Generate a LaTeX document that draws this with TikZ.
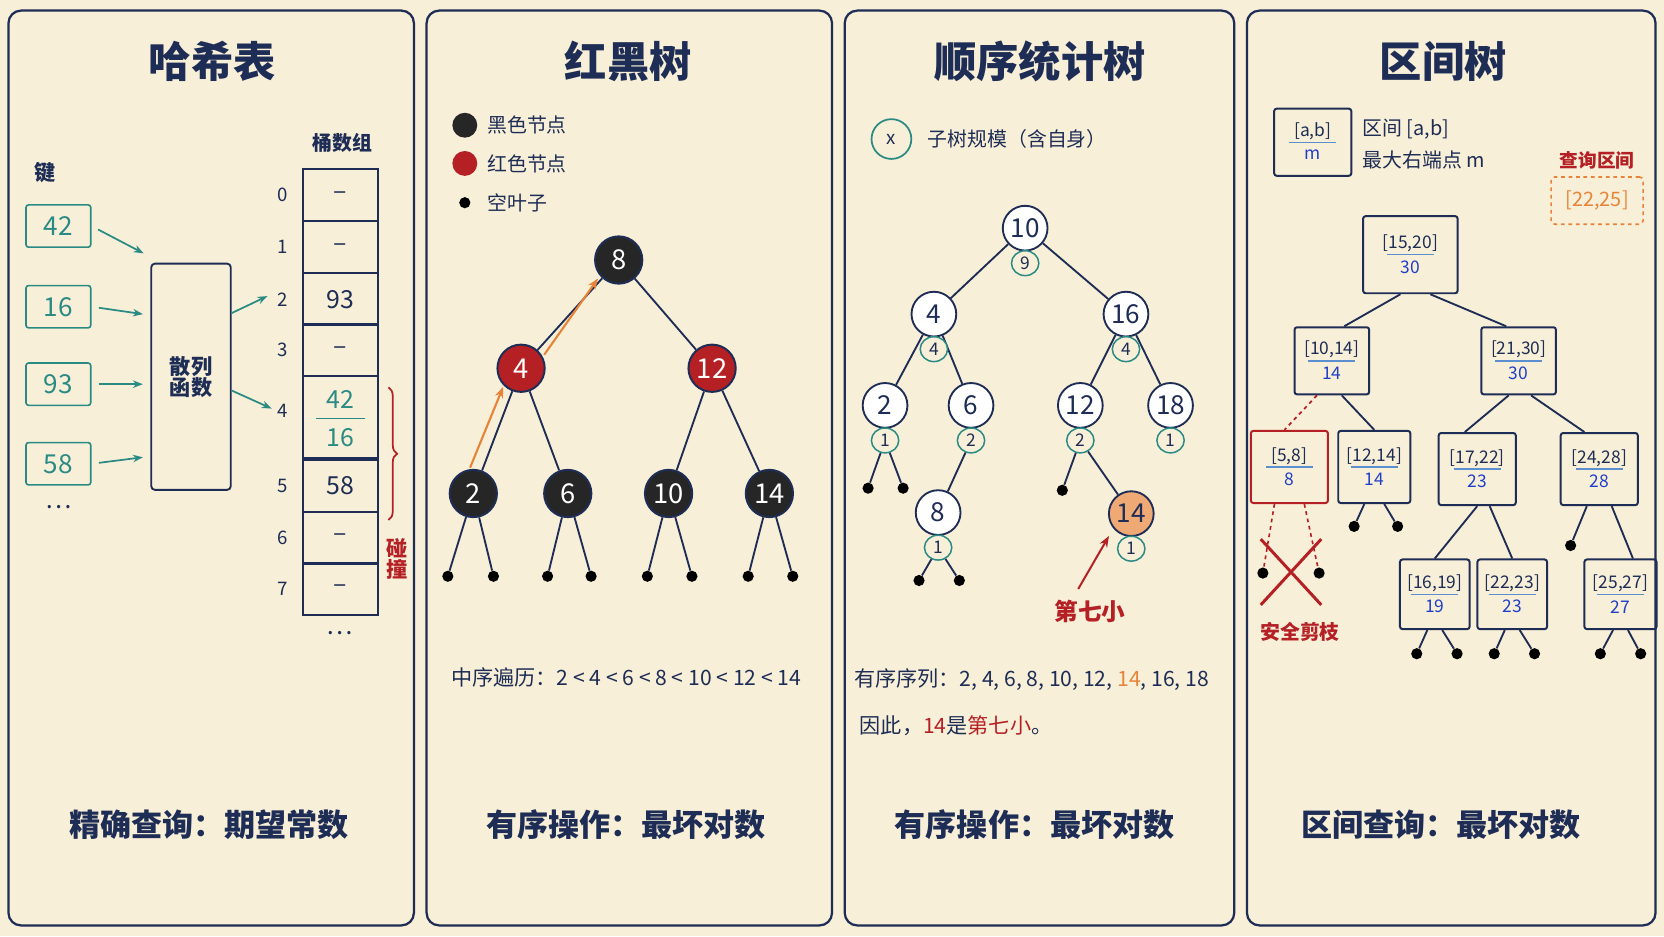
\documentclass[tikz,border=0pt]{standalone}
\usepackage{fontspec}
\setmainfont{Noto Sans CJK SC}
\usetikzlibrary{arrows.meta,decorations.pathreplacing,shapes.geometric}
\definecolor{bg}{HTML}{F8EFD8}
\definecolor{navy}{HTML}{1E2D55}
\definecolor{teal}{HTML}{2A8A84}
\definecolor{rd}{HTML}{B52025}
\definecolor{org}{HTML}{E8843A}
\definecolor{lblue}{HTML}{5B8FD0}
\definecolor{dblue}{HTML}{1F3FC8}
\newcommand{\fsz}[1]{\fontsize{#1}{#1}\selectfont}
\tikzset{
 panel/.style={draw=navy,line width=1.8pt,rounded corners=10pt,fill=bg},
 title/.style={text=navy,font=\fsz{34}\bfseries},
 bottom/.style={text=navy,font=\fsz{25}\bfseries},
 lbl/.style={text=navy,font=\fsz{16}},
 key/.style={draw=teal,line width=1.3pt,rounded corners=2pt,minimum width=52,minimum height=34,inner sep=0,text=teal,font=\fsz{21}},
 ar/.style={-{Stealth[length=8pt]},teal,line width=1.4pt},
 bk/.style={draw=navy,line width=1.5pt,minimum width=60,minimum height=42,inner sep=0,text=navy,font=\fsz{20}},
 rbB/.style={circle,draw=navy,line width=1.6pt,fill=black!85,text=white,minimum size=38,inner sep=0,font=\fsz{22}},
 rbR/.style={circle,draw=navy,line width=1.6pt,fill=rd,text=white,minimum size=38,inner sep=0,font=\fsz{22}},
 ed/.style={navy,line width=1.5pt},
 dot/.style={circle,fill=black,inner sep=0,minimum size=9},
 os/.style={circle,draw=navy,line width=1.5pt,fill=white,text=navy,minimum size=36,inner sep=0,font=\fsz{21}},
 sz/.style={ellipse,draw=teal,line width=1.2pt,fill=bg,text=navy,minimum width=22,minimum height=20,inner sep=1,font=\fsz{14}},
 iv/.style={draw=navy,line width=1.6pt,rounded corners=2pt,minimum width=50,minimum height=46,inner sep=0},
}
% #1 extra style, #2 name, #3 position, #4 top, #5 bottom
\newcommand{\ivn}[5]{\node[iv,#1] (#2) at (#3) {};
 \node[text=navy,font=\fsz{14}] at ([yshift=9]#2.center) {#4};
 \draw[lblue,line width=1.1pt] ([xshift=-19]#2.center) -- ([xshift=19]#2.center);
 \node[text=dblue,font=\fsz{14}] at ([yshift=-10]#2.center) {#5};}
\begin{document}
\begin{tikzpicture}[x=0.03cm,y=-0.03cm]
\fill[bg] (0,0) rectangle (1568,882);
\useasboundingbox (0,0) rectangle (1568,882);
\draw[panel] (8,10) rectangle (390,872);
\draw[panel] (402,10) rectangle (784,872);
\draw[panel] (796,10) rectangle (1163,872);
\draw[panel] (1175,10) rectangle (1560,872);
% ---------- Panel 1
\node[title] at (200,58) {哈希表};
\node[lbl,font=\fsz{17}\bfseries] at (42,163) {键};
\node[key] (k1) at (55,213) {42};
\node[key] (k2) at (55,289) {16};
\node[key] (k3) at (55,362) {93};
\node[key] (k4) at (55,437) {58};
\node[lbl,font=\fsz{20}] (kd) at (55,478) {…};
\node[draw=navy,line width=1.5pt,rounded corners=3pt,minimum width=64,minimum height=182,inner sep=0,
  text=navy,font=\fsz{17}\bfseries,align=center] (hf) at (180,355) {散列\\函数};
\draw[ar,shorten <=6pt,shorten >=6pt] (k1.east) -- (hf.west |- 0,242);
\draw[ar,shorten <=6pt,shorten >=6pt] (k2.east) -- (hf.west |- 0,297);
\draw[ar,shorten <=6pt,shorten >=6pt] (k3.east) -- (hf.west |- 0,362);
\draw[ar,shorten <=6pt,shorten >=6pt] (k4.east) -- (hf.west |- 0,430);
\node[lbl,font=\fsz{16}\bfseries] at (323,135) {桶数组};
\node[bk] (b0) at (321,184) {–};
\node[bk] (b1) at (321,233) {–};
\node[bk] (b2) at (321,282) {93};
\node[bk] (b3) at (321,330) {–};
\node[bk,minimum height=66] (b4) at (321,393) {};
\node[text=teal,font=\fsz{20}] at (321,376) {42};
\node[text=teal,font=\fsz{20}] at (321,412) {16};
\draw[teal,line width=1pt] (298,394) -- (344,394);
\node[bk] (b5) at (321,458) {58};
\node[bk] (b6) at (321,507) {–};
\node[bk] (b7) at (321,555) {–};
\foreach \i/\y in {0/184,1/233,2/282,3/330,4/387,5/458,6/507,7/555}{\node[lbl,font=\fsz{15}] at (266,\y) {\i};}
\node[lbl,font=\fsz{20}] at (320,597) {…};
\draw[ar] (hf.east |- 0,295) -- (252,279);
\draw[ar] (hf.east |- 0,368) -- (256,385);
\draw[rd,line width=1.4pt,decorate,decoration={brace,amplitude=7pt}] (366,365) -- (366,490);
\node[text=rd,font=\fsz{17}\bfseries,align=center] at (374,527) {碰\\撞};
\node[bottom] at (197,777) {精确查询：期望常数};
% ---------- Panel 2
\node[title] at (592,58) {红黑树};
\node[circle,fill=black!85,minimum size=20,inner sep=0] (lg1) at (438,118) {};
\node[lbl,anchor=west] at (455,118) {黑色节点};
\node[circle,fill=rd,minimum size=20,inner sep=0] (lg2) at (438,154) {};
\node[lbl,anchor=west] at (455,154) {红色节点};
\node[dot] (lg3) at (438,191) {};
\node[lbl,anchor=west] at (455,191) {空叶子};
\node[rbB] (r8) at (583,245) {8};
\node[rbR] (r4) at (491,347) {4};
\node[rbR] (r12) at (671,347) {12};
\node[rbB] (r2) at (446,465) {2};
\node[rbB] (r6) at (535,465) {6};
\node[rbB] (r10) at (630,465) {10};
\node[rbB] (r14) at (725,465) {14};
\draw[ed] (r8) -- (r4); \draw[ed] (r8) -- (r12);
\draw[ed] (r4) -- (r2); \draw[ed] (r4) -- (r6);
\draw[ed] (r12) -- (r10); \draw[ed] (r12) -- (r14);
\foreach \p/\a/\b in {r2/422/465,r6/516/557,r10/610/652,r14/705/747}{
  \node[dot] (\p a) at (\a,543) {}; \node[dot] (\p b) at (\b,543) {};
  \draw[ed] (\p) -- (\p a); \draw[ed] (\p) -- (\p b);}
\draw[-{Stealth[length=9pt]},org,line width=1.7pt,shorten <=1pt,shorten >=1pt] ([xshift=-3]r2.north) -- (r4.south west);
\draw[-{Stealth[length=9pt]},org,line width=1.7pt,shorten <=1pt,shorten >=1pt] ([xshift=4,yshift=-4]r4.north east) -- ([xshift=-2]r8.south west);
\node[lbl,font=\fsz{17}] at (590,638) {中序遍历：2 < 4 < 6 < 8 < 10 < 12 < 14};
\node[bottom] at (590,777) {有序操作：最坏对数};
% ---------- Panel 3
\node[title] at (980,58) {顺序统计树};
\node[circle,draw=teal,line width=1.4pt,minimum size=32,inner sep=0,text=navy,font=\fsz{15}] (lgx) at (840,131) {x};
\node[lbl,anchor=west] at (870,131) {子树规模（含自身）};
\node[os] (o10) at (966,215) {10};
\node[os] (o4) at (880,296) {4};
\node[os] (o16) at (1061,296) {16};
\node[os] (o2) at (834,382) {2};
\node[os] (o6) at (915,382) {6};
\node[os] (o12) at (1018,382) {12};
\node[os] (o18) at (1103,382) {18};
\node[os] (o8) at (884,483) {8};
\node[os,fill=org!70] (o14) at (1066,484) {14};
\draw[ed] (o10) -- (o4); \draw[ed] (o10) -- (o16);
\draw[ed] (o4) -- (o2); \draw[ed] (o4) -- (o6);
\draw[ed] (o16) -- (o12); \draw[ed] (o16) -- (o18);
\foreach \n/\s in {o10/9,o4/4,o16/4,o2/1,o6/2,o12/2,o18/1,o8/1,o14/1}{
  \node[sz] (s\n) at ([shift={(0,33)}]\n.center) {\s};}
\draw[ed] (so6) -- (o8); \draw[ed] (so12) -- (o14);
\node[dot] (d1) at (818,460) {}; \node[dot] (d2) at (851,460) {};
\draw[ed] (so2) -- (d1); \draw[ed] (so2) -- (d2);
\node[dot] (d3) at (1001,462) {}; \draw[ed] (so12) -- (d3);
\node[dot] (d4) at (866,547) {}; \node[dot] (d5) at (904,547) {};
\draw[ed] (so8) -- (d4); \draw[ed] (so8) -- (d5);
\node[text=rd,font=\fsz{19}\bfseries] (q7) at (1027,576) {第七小};
\draw[-{Stealth[length=9pt]},rd,line width=1.6pt] (1016,555) -- (1045,505);
\node[lbl,font=\fsz{17}] at (972,640) {有序序列：2, 4, 6, 8, 10, 12, \textcolor{org}{14}, 16, 18};
\node[lbl,font=\fsz{17},anchor=west] at (806,684) {因此，\textcolor{rd}{14}是\textcolor{rd}{第七小}。};
\node[bottom] at (975,777) {有序操作：最坏对数};
% ---------- Panel 4
\node[title] at (1360,58) {区间树};
\ivn{minimum width=62,minimum height=54}{lg}{1237,134}{[a,b]}{m}
\node[lbl,anchor=west] at (1280,122) {区间 [a,b]};
\node[lbl,anchor=west] at (1280,151) {最大右端点 m};
\node[text=rd,font=\fsz{15}\bfseries] at (1505,151) {查询区间};
\node[draw=org,dashed,line width=1.3pt,rounded corners=3pt,minimum width=74,minimum height=38,text=org,font=\fsz{16}] (qi) at (1505,189) {[22,25]};
\ivn{minimum width=76,minimum height=62}{i1}{1329,240}{[15,20]}{30}
\ivn{minimum width=60,minimum height=54}{i2}{1255,340}{[10,14]}{14}
\ivn{minimum width=60,minimum height=54}{i3}{1431,340}{[21,30]}{30}
\ivn{draw=rd,minimum width=62,minimum height=58}{i4}{1215,440}{[5,8]}{8}
\ivn{minimum width=58,minimum height=58}{i5}{1295,440}{[12,14]}{14}
\ivn{minimum width=62,minimum height=58}{i6}{1392,442}{[17,22]}{23}
\ivn{minimum width=62,minimum height=58}{i7}{1507,442}{[24,28]}{28}
\ivn{minimum width=56,minimum height=56}{i8}{1352,560}{[16,19]}{19}
\ivn{minimum width=56,minimum height=56}{i9}{1425,560}{[22,23]}{23}
\ivn{minimum width=58,minimum height=56}{i10}{1527,560}{[25,27]}{27}
\draw[ed] ([xshift=-8]i1.south) -- ([xshift=10]i2.north);
\draw[ed] ([xshift=16]i1.south) -- ([xshift=-10]i3.north);
\draw[rd,dashed,line width=1.4pt] ([xshift=-12]i2.south) -- ([xshift=-4]i4.north);
\draw[ed] ([xshift=8]i2.south) -- (i5.north);
\draw[ed] ([xshift=-8]i3.south) -- ([xshift=-10]i6.north);
\draw[ed] ([xshift=10]i3.south) -- ([xshift=-12]i7.north);
\draw[ed] (i6.south) -- (i8.north);
\draw[ed] ([xshift=10]i6.south) -- (i9.north);
\draw[ed] ([xshift=10]i7.south) -- ([xshift=10]i10.north);
\node[dot] (e1) at (1190,540) {}; \node[dot] (e2) at (1243,540) {};
\draw[rd,dashed,line width=1.3pt] ([xshift=-12]i4.south) -- (e1);
\draw[rd,dashed,line width=1.3pt] ([xshift=12]i4.south) -- (e2);
\draw[rd,line width=2.4pt] (1188,508) -- (1245,570);
\draw[rd,line width=2.4pt] (1245,508) -- (1188,570);
\node[text=rd,font=\fsz{16}\bfseries] at (1225,595) {安全剪枝};
\node[dot] (e3) at (1276,496) {}; \node[dot] (e4) at (1317,496) {};
\draw[ed] ([xshift=-8]i5.south) -- (e3); \draw[ed] ([xshift=8]i5.south) -- (e4);
\node[dot] (e5) at (1480,514) {}; \draw[ed] ([xshift=-10]i7.south) -- (e5);
\foreach \n/\a/\b in {i8/1335/1373,i9/1408/1446,i10/1508/1546}{
  \node[dot] (\n a) at (\a,616) {}; \node[dot] (\n b) at (\b,616) {};
  \draw[ed] ([xshift=-6]\n.south) -- (\n a); \draw[ed] ([xshift=6]\n.south) -- (\n b);}
\node[bottom] at (1358,777) {区间查询：最坏对数};
\end{tikzpicture}
\end{document}
